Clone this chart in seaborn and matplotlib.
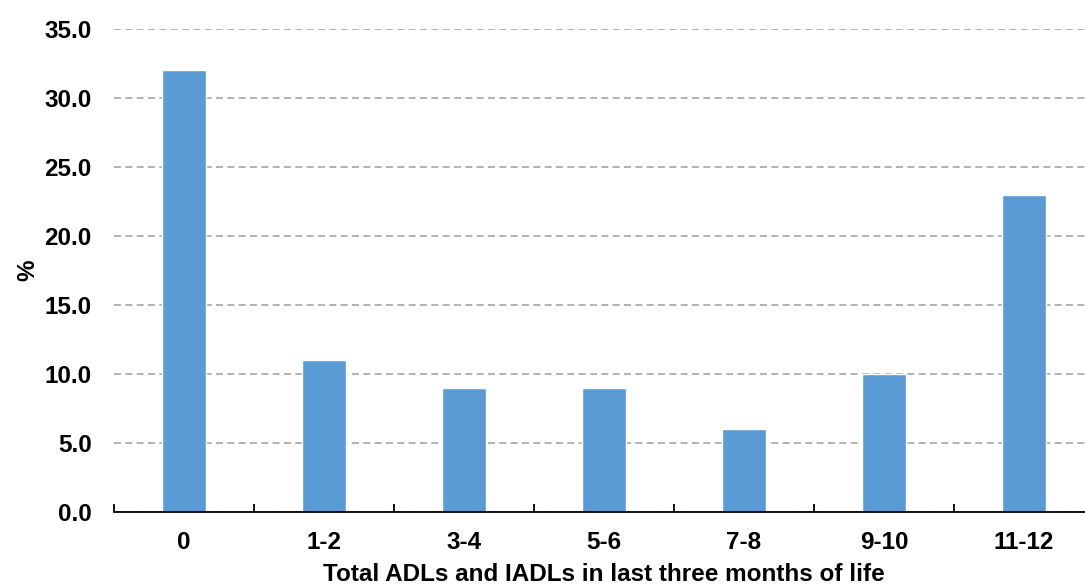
import matplotlib
matplotlib.use("Agg")
import matplotlib.pyplot as plt
from matplotlib.ticker import MultipleLocator, FormatStrFormatter, FixedLocator
import seaborn as sns
import pandas as pd

categories = ["0", "1-2", "3-4", "5-6", "7-8", "9-10", "11-12"]
percent = [32, 11, 9, 9, 6, 10, 23]

sns.set_theme(style="white")
plt.rcParams["font.family"] = ["Liberation Sans", "DejaVu Sans"]
plt.rcParams["font.weight"] = "bold"

df = pd.DataFrame({"group": categories, "pct": percent})

fig = plt.figure(figsize=(10.85, 5.87), dpi=100)
ax = fig.add_axes([114 / 1085, 75 / 587, 980 / 1085, 483 / 587])

sns.barplot(data=df, x="group", y="pct", order=categories, color="#5B9BD5",
            saturation=1, width=0.31, ax=ax, zorder=3)

ax.set_xlim(-0.5, len(categories) - 0.5)
ax.set_ylim(0, 35)
ax.yaxis.set_major_locator(MultipleLocator(5))
ax.yaxis.set_major_formatter(FormatStrFormatter("%.1f"))
ax.grid(axis="y", color="#A6A6A6", linestyle=(0, (4.2, 2.6)), linewidth=1.2, zorder=0)
ax.grid(axis="x", visible=False)

for side in ("left", "right", "top"):
    ax.spines[side].set_visible(False)
ax.spines["bottom"].set_color("black")
ax.spines["bottom"].set_linewidth(1.3)
ax.spines["bottom"].set_zorder(4)

fs = 17.5
ax.xaxis.set_minor_locator(FixedLocator([i - 0.5 for i in range(len(categories) + 1)]))
ax.tick_params(axis="x", which="both", bottom=True)
ax.tick_params(axis="x", which="major", length=0, pad=14, labelsize=fs)
ax.tick_params(axis="x", which="minor", length=6, width=1.3, direction="in", color="black")
ax.tick_params(axis="y", which="both", length=0, pad=16, labelsize=fs)
for lbl in ax.get_xticklabels() + ax.get_yticklabels():
    lbl.set_fontweight("bold")
    lbl.set_color("black")

ax.set_xlabel("Total ADLs and IADLs in last three months of life", fontsize=fs,
              fontweight="bold", color="black", labelpad=6.5)
ax.set_ylabel("%", fontsize=fs, fontweight="bold", color="black", labelpad=4)

fig.savefig("out.png", dpi=100)
